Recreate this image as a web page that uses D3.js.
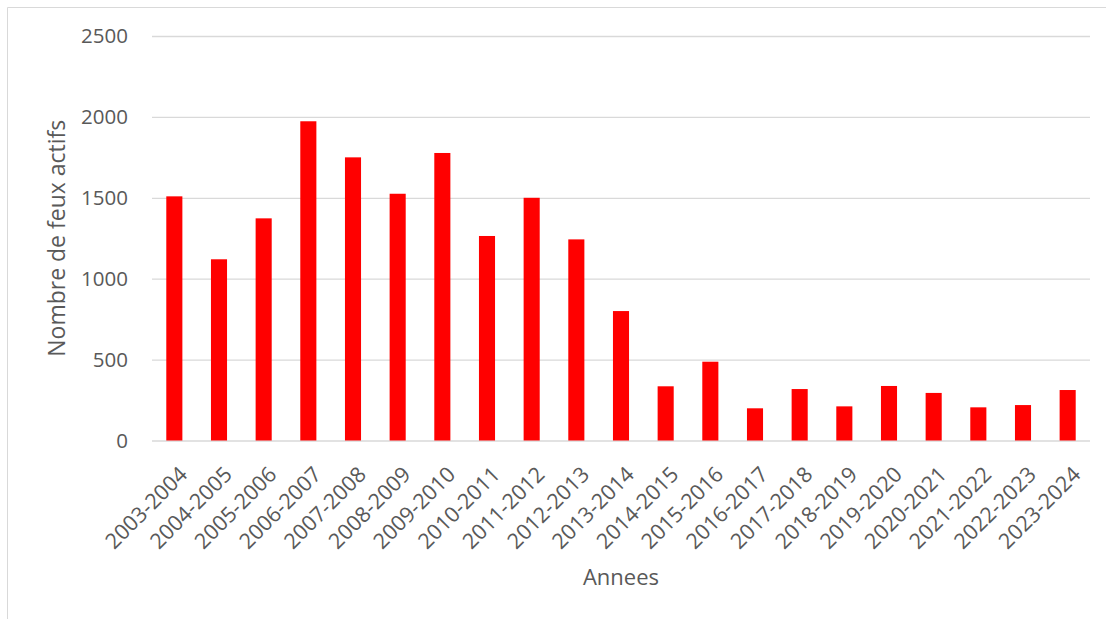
<!DOCTYPE html>
<html>
<head>
<meta charset="utf-8">
<script src="https://cdn.jsdelivr.net/npm/d3@7"></script>
<style>
  html, body { margin: 0; padding: 0; background: #fff; }
  svg { display: block; }
  text { font-family: "Open Sans", "Liberation Sans", sans-serif; fill: #595959; }
</style>
</head>
<body>
<svg id="chart" width="1106" height="619"></svg>
<script>
const categories = ["2003-2004","2004-2005","2005-2006","2006-2007","2007-2008","2008-2009","2009-2010","2010-2011","2011-2012","2012-2013","2013-2014","2014-2015","2015-2016","2016-2017","2017-2018","2018-2019","2019-2020","2020-2021","2021-2022","2022-2023","2023-2024"];
const values = [1509,1120,1373,1973,1750,1525,1777,1264,1500,1243,800,335,487,199,318,211,337,294,205,219,312];
const yTicks = [0,500,1000,1500,2000,2500];
const yTitle = "Nombre de feux actifs";
const xTitle = "Annees";

const svg = d3.select("#chart");
const W = 1106, H = 619;
const plot = { left: 152, right: 1090, top: 36, bottom: 440.5 };

// chart border (top and left visible)
svg.append("line").attr("x1", 7.5).attr("x2", W).attr("y1", 7.5).attr("y2", 7.5)
  .attr("stroke", "#d9d9d9").attr("stroke-width", 1);
svg.append("line").attr("x1", 7.5).attr("x2", 7.5).attr("y1", 7.5).attr("y2", H)
  .attr("stroke", "#d9d9d9").attr("stroke-width", 1);

const x = d3.scaleBand().domain(categories).range([plot.left, plot.right]).paddingInner(0.64).paddingOuter(0.32);
const y = d3.scaleLinear().domain([0, 2500]).range([plot.bottom, plot.top]);

// gridlines
const yAxis = d3.axisLeft(y).tickValues(yTicks).tickSize(-(plot.right - plot.left)).tickPadding(24).tickFormat(d3.format("d"));
const gy = svg.append("g").attr("transform", `translate(${plot.left},0)`).call(yAxis);
gy.select(".domain").remove();
gy.selectAll(".tick line").attr("stroke", "#d9d9d9").attr("stroke-width", 1.3);
gy.selectAll(".tick text").attr("font-size", 20.5).attr("fill", "#595959")
  .attr("font-family", "'Open Sans', sans-serif");

// bars
svg.append("g").selectAll("rect").data(values).join("rect")
  .attr("x", (d, i) => x(categories[i]))
  .attr("width", x.bandwidth())
  .attr("y", d => y(d))
  .attr("height", d => y(0) - y(d))
  .attr("fill", "#ff0000");

// x axis labels
const xAxis = d3.axisBottom(x).tickSize(0).tickPadding(0);
const gx = svg.append("g").attr("transform", `translate(0,${plot.bottom})`).call(xAxis);
gx.select(".domain").remove();
gx.selectAll(".tick text")
  .attr("font-size", 21.5)
  .attr("font-family", "'Open Sans', sans-serif")
  .attr("fill", "#595959")
  .attr("text-anchor", "end")
  .attr("dy", "0.35em")
  .attr("transform", "translate(9,30) rotate(-45)")
  .attr("y", 0);

// axis titles
svg.append("text")
  .attr("transform", `translate(65,${(plot.top + plot.bottom) / 2}) rotate(-90)`)
  .attr("text-anchor", "middle")
  .attr("font-size", 23)
  .text(yTitle);

svg.append("text")
  .attr("x", (plot.left + plot.right) / 2)
  .attr("y", 585)
  .attr("text-anchor", "middle")
  .attr("font-size", 22)
  .text(xTitle);
</script>
</body>
</html>
